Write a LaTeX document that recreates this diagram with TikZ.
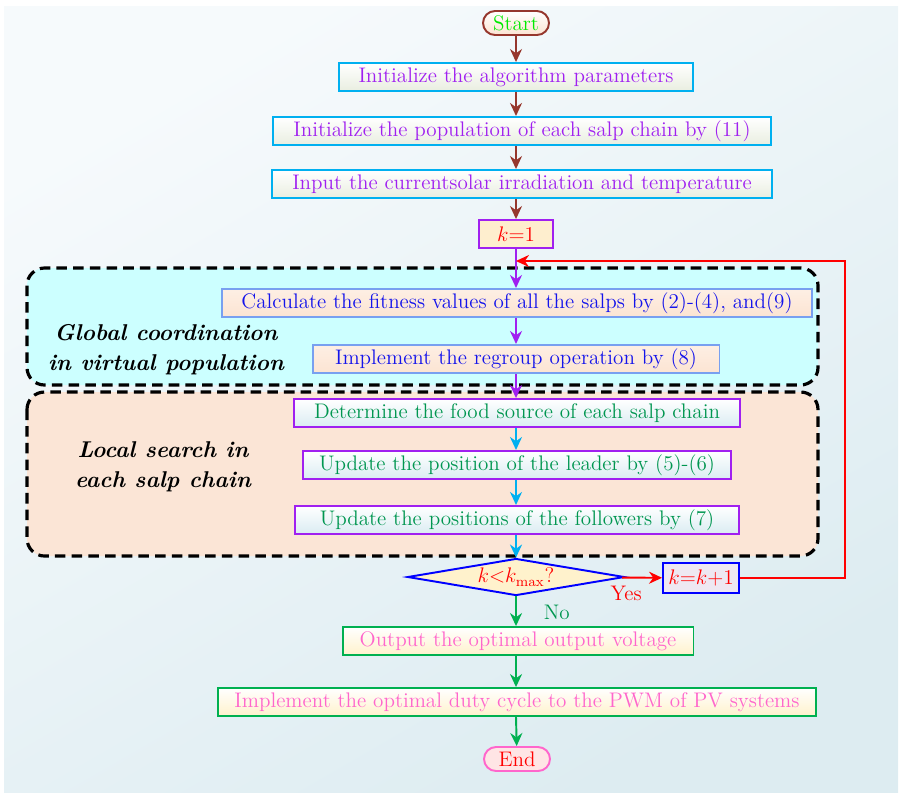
\documentclass[tikz,border=0pt]{standalone}
\usepackage{amsmath}
\usepackage{tikz}
\usetikzlibrary{shapes.geometric,arrows.meta}

\definecolor{bgA}{RGB}{246,250,252}
\definecolor{bgB}{RGB}{221,236,241}
\definecolor{brownln}{RGB}{150,55,45}
\definecolor{cyanln}{RGB}{0,176,240}
\definecolor{purpln}{RGB}{160,32,240}
\definecolor{lblue}{RGB}{120,160,240}
\definecolor{greenln}{RGB}{0,176,80}
\definecolor{greentx}{RGB}{0,150,80}
\definecolor{pinktx}{RGB}{255,102,204}
\definecolor{bluetx}{RGB}{20,20,235}
\definecolor{startgr}{RGB}{0,235,0}
\definecolor{peach}{RGB}{252,228,210}
\definecolor{cyanbg}{RGB}{204,255,255}
\definecolor{peachbg}{RGB}{251,229,214}
\definecolor{paleyel}{RGB}{255,242,204}
\definecolor{palegrn}{RGB}{233,238,224}
\definecolor{paleblu}{RGB}{218,236,242}
\definecolor{lavend}{RGB}{238,232,242}

\begin{document}
\begin{tikzpicture}[x=0.02cm,y=-0.02cm,>={Stealth[length=2.6mm,width=2.4mm]},
    font=\fontsize{12}{14.5}\selectfont,
    box/.style={draw,line width=1.1pt,minimum height=0.56cm,inner sep=2pt},
    term/.style={draw,line width=1.1pt,rounded corners=0.24cm,minimum height=0.48cm,minimum width=1.32cm,inner sep=1pt},
    region/.style={draw=black,line width=1.8pt,dash pattern=on 6pt off 3.5pt,rounded corners=0.35cm},
    flow/.style={->,line width=1.1pt}]
      % background and bounds
      \useasboundingbox (0,0) rectangle (902,796);
      \fill[top color=bgA,bottom color=bgB,shading angle=30] (4,6) rectangle (898,792);

      % the two dashed groups
      \draw[region,fill=cyanbg] (27,268) rectangle (818,385);
      \draw[region,fill=peachbg] (27,392) rectangle (818,556);

      \node[term,draw=brownln,top color=white,bottom color=peach,text=startgr] (start) at (516,23) {Start};
      \node[box,draw=cyanln,top color=white,bottom color=palegrn,text=purpln,minimum width=7.08cm] (init) at (516,77) {Initialize the algorithm parameters};
      \node[box,draw=cyanln,top color=white,bottom color=palegrn,text=purpln,minimum width=9.96cm] (pop) at (522,131) {Initialize the population of each salp chain by (11)};
      \node[box,draw=cyanln,top color=white,bottom color=palegrn,text=purpln,minimum width=10cm] (input) at (522,184) {Input the currentsolar irradiation and temperature};
      \node[box,draw=purpln,fill=paleyel!70!peach,text=red,minimum width=1.48cm] (kone) at (516,234) {$k$=1};

      \node[box,draw=lblue,top color=peach!60,bottom color=peach,text=bluetx,minimum width=11.8cm] (calc) at (517,303) {Calculate the fitness values of all the salps by (2)-(4), and(9)};
      \node[box,draw=lblue,top color=peach!60,bottom color=peach,text=bluetx,minimum width=8.14cm] (regroup) at (516,359) {Implement the regroup operation by (8)};
      \node[font=\fontsize{13}{17}\selectfont\bfseries\itshape,align=center] (glob) at (166,350) {Global coordination\\in virtual population};

      \node[box,draw=purpln,top color=white,bottom color=paleblu,text=greentx,minimum width=8.92cm] (food) at (517,413) {Determine the food source of each salp chain};
      \node[box,draw=purpln,top color=white,bottom color=paleblu,text=greentx,minimum width=8.56cm] (leader) at (517,465) {Update the position of the leader by (5)-(6)};
      \node[box,draw=purpln,top color=white,bottom color=paleblu,text=greentx,minimum width=8.88cm] (follow) at (517,520) {Update the positions of the followers by (7)};
      \node[font=\fontsize{13}{17}\selectfont\bfseries\itshape,align=center] (loc) at (163,467) {Local search in\\each salp chain};

      \node[diamond,aspect=5.9,draw=blue,line width=1.1pt,fill=paleyel,text=red,inner sep=0pt,minimum width=4.34cm,minimum height=0.74cm] (dec) at (516,577) {$k$<$k_{\mathrm{max}}$?};
      \node[box,draw=blue,fill=lavend,text=red,minimum width=1.52cm,minimum height=0.6cm] (kk) at (701,578) {$k$=$k$+1};

      \node[box,draw=greenln,top color=white,bottom color=paleyel,text=pinktx,minimum width=7.02cm] (out) at (518,641) {Output the optimal output voltage};
      \node[box,draw=greenln,top color=white,bottom color=paleyel,text=pinktx,minimum width=11.96cm] (duty) at (517,702) {Implement the optimal duty cycle to the PWM of PV systems};
      \node[term,draw=pinktx,fill=red!10,text=red] (end) at (517,759) {End};

      \coordinate (loop) at (516,261);
      \coordinate (loopR) at (845,261);

      % connectors
      \draw[flow,brownln] (start) -- (init);
      \draw[flow,brownln] (init) -- (init|-pop.north);
      \draw[flow,brownln] (init|-pop.south) -- (init|-input.north);
      \draw[flow,brownln] (init|-input.south) -- (kone);
      \draw[flow,purpln] (kone) -- (kone|-calc.north);
      \draw[flow,purpln] (kone|-calc.south) -- (kone|-regroup.north);
      \draw[flow,purpln] (regroup) -- (regroup|-food.north);
      \draw[flow,cyanln] (regroup|-food.south) -- (regroup|-leader.north);
      \draw[flow,cyanln] (regroup|-leader.south) -- (regroup|-follow.north);
      \draw[flow,cyanln] (regroup|-follow.south) -- (dec);
      \draw[flow,red] (dec) -- node[pos=0.1,below=1pt]{Yes} (kk);
      \draw[flow,red] (kk.east) -| (loopR) -- (loop);
      \draw[flow,greenln] (dec) -- node[right=12pt,pos=0.55,text=greentx]{No} (dec|-out.north);
      \draw[flow,greenln] (dec|-out.south) -- (dec|-duty.north);
      \draw[flow,greenln] (dec|-duty.south) -- (end);
    \end{tikzpicture}
\end{document}
